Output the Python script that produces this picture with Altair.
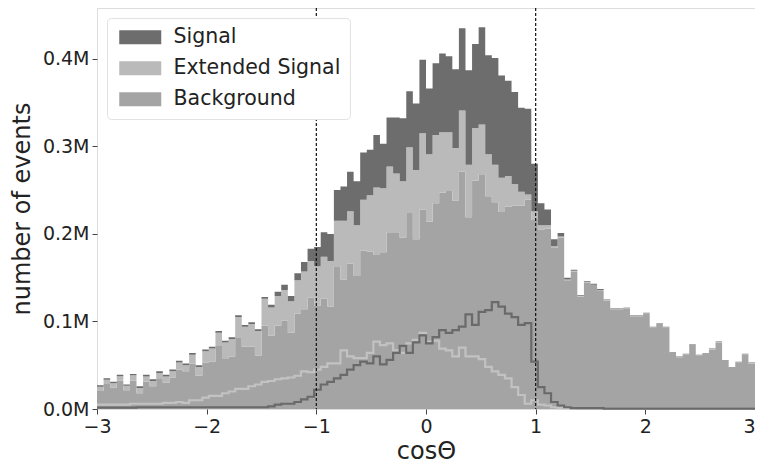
import altair as alt
import pandas as pd

# 100 bins of width 0.06 from -3 to 3 (values in millions of events)
bin_edges = [round(-3 + 0.06 * i, 2) for i in range(101)]

background = [
    0.0205, 0.0285, 0.0245, 0.0325, 0.0215, 0.0325, 0.018, 0.031, 0.026, 0.035,
    0.030, 0.036, 0.045, 0.043, 0.052, 0.038, 0.053, 0.054, 0.072, 0.058,
    0.060, 0.082, 0.071, 0.071, 0.061, 0.095, 0.084, 0.095, 0.101, 0.087,
    0.109, 0.114, 0.127, 0.118, 0.126, 0.117, 0.163, 0.148, 0.166, 0.152,
    0.181, 0.180, 0.176, 0.179, 0.202, 0.202, 0.196, 0.224, 0.194, 0.228,
    0.214, 0.235, 0.247, 0.249, 0.238, 0.271, 0.219, 0.261, 0.268, 0.243,
    0.236, 0.225, 0.231, 0.232, 0.232, 0.239, 0.216, 0.205, 0.206, 0.184,
    0.196, 0.147, 0.157, 0.1285, 0.1445, 0.1415, 0.1355, 0.124, 0.114, 0.114,
    0.115, 0.106, 0.106, 0.109, 0.093, 0.097, 0.093, 0.064, 0.059, 0.062,
    0.073, 0.061, 0.063, 0.068, 0.076, 0.055, 0.047, 0.053, 0.062, 0.052,
]

extended_signal = [
    0.005, 0.005, 0.005, 0.005, 0.005, 0.006, 0.006, 0.006, 0.006, 0.006,
    0.007, 0.007, 0.008, 0.007, 0.010, 0.010, 0.013, 0.015, 0.015, 0.018,
    0.020, 0.023, 0.023, 0.026, 0.028, 0.031, 0.032, 0.034, 0.035, 0.036,
    0.038, 0.043, 0.042, 0.045, 0.048, 0.052, 0.052, 0.067, 0.060, 0.058,
    0.058, 0.064, 0.077, 0.073, 0.075, 0.067, 0.064, 0.075, 0.079, 0.087,
    0.077, 0.078, 0.069, 0.067, 0.060, 0.070, 0.060, 0.060, 0.057, 0.048,
    0.043, 0.039, 0.035, 0.025, 0.016, 0.006, 0.010, 0.005, 0.004, 0.002,
    0.001, 0.001, 0.001, 0.0005, 0.0005, 0.0005, 0.0005, 0.0005, 0.0005, 0.0005,
    0.0005, 0.0005, 0.0005, 0.0005, 0.0005, 0.0005, 0.0005, 0.0005, 0.0005, 0.0005,
    0.0005, 0.0005, 0.0005, 0.0005, 0.0005, 0.0005, 0.0005, 0.0005, 0.0005, 0.0005,
]

signal = [
    0.0015, 0.0015, 0.0015, 0.0015, 0.0015, 0.0015, 0.002, 0.002, 0.002, 0.002,
    0.002, 0.002, 0.002, 0.002, 0.002, 0.002, 0.002, 0.002, 0.002, 0.002,
    0.002, 0.002, 0.002, 0.002, 0.002, 0.002, 0.003, 0.005, 0.006, 0.006,
    0.008, 0.011, 0.014, 0.022, 0.028, 0.031, 0.035, 0.039, 0.045, 0.050,
    0.054, 0.052, 0.060, 0.051, 0.056, 0.064, 0.072, 0.064, 0.076, 0.084,
    0.075, 0.082, 0.090, 0.087, 0.090, 0.094, 0.108, 0.096, 0.111, 0.113,
    0.122, 0.117, 0.109, 0.105, 0.096, 0.098, 0.054, 0.025, 0.018, 0.008,
    0.004, 0.002, 0.001, 0.001, 0.001, 0.001, 0.001, 0.0005, 0.0005, 0.0005,
    0.0005, 0.0005, 0.0005, 0.0005, 0.0005, 0.0005, 0.0005, 0.0005, 0.0005, 0.0005,
    0.0005, 0.0005, 0.0005, 0.0005, 0.0005, 0.0005, 0.0005, 0.0005, 0.0005, 0.0005,
]

series_names = ["Signal", "Extended Signal", "Background"]
series_colors = ["#6d6d6d", "#bababa", "#a4a4a4"]
cut_lines = [-1, 1]
x_ticks = [-3, -2, -1, 0, 1, 2, 3]
y_ticks = [0, 0.1, 0.2, 0.3, 0.4]


def step_rows(values, name, order):
    rows = []
    for i, x in enumerate(bin_edges):
        v = values[min(i, len(values) - 1)]
        rows.append({"x": x, "v": v, "series": name, "ord": order})
    return rows


stack_df = pd.DataFrame(
    step_rows(background, "Background", 0)
    + step_rows(extended_signal, "Extended Signal", 1)
    + step_rows(signal, "Signal", 2)
)
sig_df = pd.DataFrame(step_rows(signal, "Signal", 0))
ext_df = pd.DataFrame(step_rows(extended_signal, "Extended Signal", 0))
cut_df = pd.DataFrame({"x": cut_lines})

FONT = "DejaVu Sans"
xscale = alt.Scale(domain=[-3, 3], nice=False, zero=False)
yscale = alt.Scale(domain=[0, 0.458], nice=False)

x_axis = alt.Axis(
    values=x_ticks, format="d", title="cosΘ",
    grid=False, domain=False, tickSize=5, tickColor="#444", labelFontSize=19,
    labelColor="#222", labelFont=FONT, labelPadding=3, labelFlush=False,
    labelAlign={"condition": {"test": "datum.value == 3", "value": "right"}, "value": "center"},
    titleFont=FONT, titleFontSize=24, titleFontWeight="normal", titleColor="#222",
    titleBaseline="alphabetic", titleY=49,
)
y_axis = alt.Axis(
    values=y_ticks, labelExpr="format(datum.value, '.1f') + 'M'",
    title="number of events", grid=False, domain=False, tickSize=5,
    tickColor="#444", labelFontSize=19, labelColor="#222", labelFont=FONT,
    labelPadding=3, titleFont=FONT, titleFontSize=24, titleFontWeight="normal",
    titleColor="#222", titlePadding=8,
)

areas = alt.Chart(stack_df).mark_area(interpolate="step-after").encode(
    x=alt.X("x:Q", scale=xscale, axis=x_axis),
    y=alt.Y("v:Q", scale=yscale, axis=y_axis, stack="zero"),
    color=alt.Color(
        "series:N",
        scale=alt.Scale(domain=series_names, range=series_colors),
        legend=alt.Legend(
            title=None, orient="none", legendX=10, legendY=10,
            symbolType="M-1,-1L5,-1L5,1L-1,1Z", symbolSize=196,
            symbolStrokeWidth=0, labelFontSize=20.5, labelFont=FONT,
            labelColor="#222", labelOffset=37, labelLimit=400, rowPadding=10,
            padding=9, fillColor="white", strokeColor="#e2e2e2", cornerRadius=4,
        ),
    ),
    order=alt.Order("ord:Q"),
)

sig_line = alt.Chart(sig_df).mark_line(
    interpolate="step-after", color="#6a6a6a", strokeWidth=2.2
).encode(x=alt.X("x:Q", scale=xscale), y=alt.Y("v:Q", scale=yscale))

ext_line = alt.Chart(ext_df).mark_line(
    interpolate="step-after", color="#c2c2c2", strokeWidth=2.2
).encode(x=alt.X("x:Q", scale=xscale), y=alt.Y("v:Q", scale=yscale))

rules = alt.Chart(cut_df).mark_rule(
    color="#111", strokeWidth=1.2, strokeDash=[3, 2]
).encode(x=alt.X("x:Q", scale=xscale))

chart = alt.layer(areas, ext_line, sig_line, rules).properties(
    width=658, height=401,
    autosize=alt.AutoSizeParams(type="none"),
    padding={"left": 89, "top": 0, "right": 0, "bottom": 54},
).configure_view(stroke="#bdbdbd", strokeWidth=1.2).configure(background="white")

chart.save("out.html", embed_options={"renderer": "svg", "actions": False})
